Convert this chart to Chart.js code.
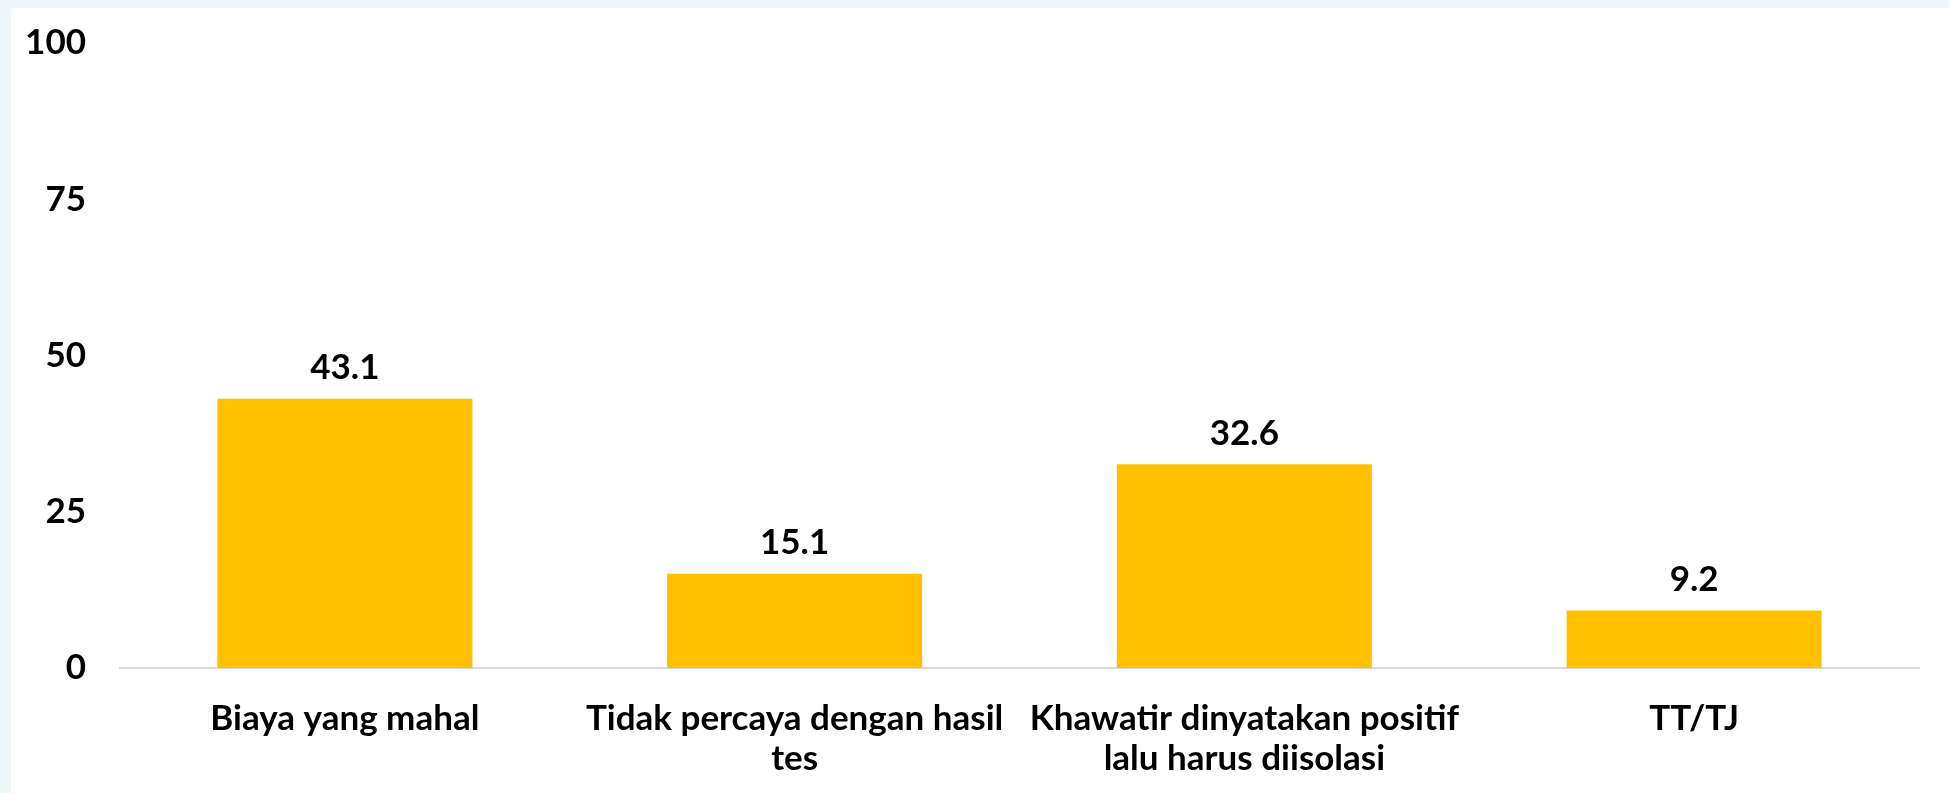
<!DOCTYPE html>
<html>
<head>
<meta charset="utf-8">
<script src="https://cdn.jsdelivr.net/npm/chart.js@4.4.1/dist/chart.umd.min.js"></script>
<style>
  html, body { margin: 0; padding: 0; }
  body { width: 1949px; height: 793px; background: #eef7f9; overflow: hidden; position: relative; }
  #panel { position: absolute; left: 11px; top: 8px; width: 1938px; height: 785px; background: #ffffff; }
  #chart { display: block; }
</style>
</head>
<body>
<div id="panel"><canvas id="chart" width="1938" height="785"></canvas></div>
<script>
// Chart data
const categories = [
    ['Biaya yang mahal'],
    ['Tidak percaya dengan hasil', 'tes'],
    ['Khawatir dinyatakan positif', 'lalu harus diisolasi'],
    ['TT/TJ']
];
const values = [43.1, 15.1, 32.6, 9.2];
const yTicks = [0, 25, 50, 75, 100];

const barColor = '#FFC000';
const fontFamily = 'Lato, "Open Sans", sans-serif';
const fontSize = 35;

// Draws the value above each bar
const valueLabels = {
    id: 'valueLabels',
    afterDatasetsDraw(chart) {
        const ctx = chart.ctx;
        const meta = chart.getDatasetMeta(0);
        ctx.save();
        ctx.font = 'bold ' + fontSize + 'px ' + fontFamily;
        ctx.fillStyle = '#000000';
        ctx.textAlign = 'center';
        ctx.textBaseline = 'middle';
        meta.data.forEach((bar, i) => {
            ctx.fillText(values[i].toFixed(1), bar.x, bar.y - 31);
        });
        ctx.restore();
    }
};

new Chart(document.getElementById('chart'), {
    type: 'bar',
    data: {
        labels: categories,
        datasets: [{
            data: values,
            backgroundColor: barColor,
            borderWidth: 0,
            categoryPercentage: 1.0,
            barPercentage: 0.567
        }]
    },
    options: {
        responsive: false,
        animation: false,
        layout: { padding: { top: 35, right: 30, bottom: 0, left: 0 } },
        plugins: {
            legend: { display: false },
            tooltip: { enabled: false }
        },
        scales: {
            x: {
                grid: { display: false },
                border: { display: true, color: '#d9d9d9', width: 2 },
                ticks: {
                    color: '#000000',
                    font: { family: fontFamily, size: fontSize, weight: 'bold', lineHeight: '40px' },
                    padding: 23,
                    maxRotation: 0,
                    autoSkip: false
                },
                afterFit(scale) { scale.height = 125; }
            },
            y: {
                min: 0,
                max: 100,
                grid: { display: false },
                border: { display: false },
                afterBuildTicks(scale) { scale.ticks = yTicks.map(v => ({ value: v })); },
                ticks: {
                    color: '#000000',
                    font: { family: fontFamily, size: fontSize, weight: 'bold', lineHeight: '10px' },
                    padding: 26
                },
                afterFit(scale) { scale.width = 109; }
            }
        }
    },
    plugins: [valueLabels]
});
</script>
</body>
</html>
